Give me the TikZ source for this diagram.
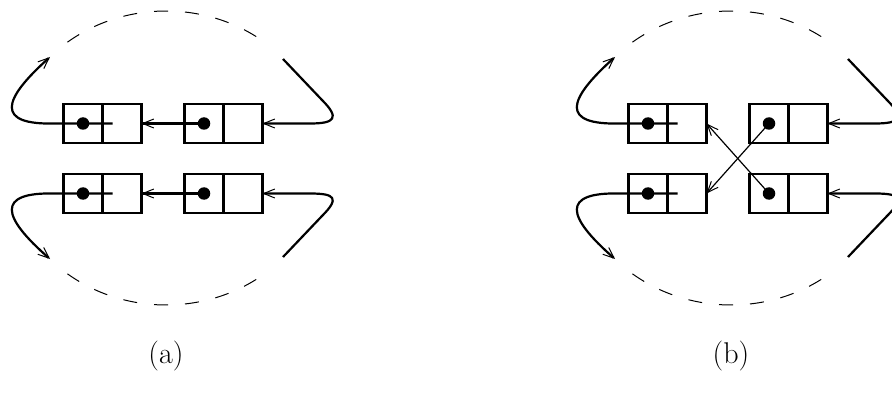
\documentclass[tikz,border=0pt]{standalone}
\usepackage{fontspec}
\usetikzlibrary{arrows.meta}
\begin{document}
\begin{tikzpicture}[x=1pt,y=-1pt,
  cell/.style={draw,line width=2.2pt,minimum width=39pt,minimum height=39pt,inner sep=0pt,outer sep=0pt},
  thick line/.style={line width=2.2pt},
  thin line/.style={line width=1.2pt},
  tip/.style={-{Straight Barb[length=11pt,width=9pt,line width=1pt]}},
  dashes/.style={line width=1pt,dash pattern=on 14pt off 17pt},
  dotc/.style={circle,fill=black,minimum size=12.5pt,inner sep=0pt},
  lab/.style={font=\fontsize{30}{36}\selectfont}]
\useasboundingbox (0,0) rectangle (892,393);
\fill[white] (0,0) rectangle (892,393);
% ---------- (a) ----------
\begin{scope}
\node[cell] (a1l) at (83,123.5) {};
\node[cell] (a1r) at (122,123.5) {};
\node[cell] (a2l) at (204,123.5) {};
\node[cell] (a2r) at (243,123.5) {};
\node[cell] (a3l) at (83,193.5) {};
\node[cell] (a3r) at (122,193.5) {};
\node[cell] (a4l) at (204,193.5) {};
\node[cell] (a4r) at (243,193.5) {};
\node[dotc] (ad1) at (a1l.center) {};
\node[dotc] (ad2) at (a2l.center) {};
\node[dotc] (ad3) at (a3l.center) {};
\node[dotc] (ad4) at (a4l.center) {};
\coordinate (at1) at (50,57);
\coordinate (at2) at (283,59);
\coordinate (ab1) at (50,259);
\coordinate (ab2) at (283,257);
% left loops
\draw[thick line,tip] ([xshift=10pt]a1r.west) -- (55,123.5) .. controls (-5,125) and (2,100) .. (at1);
\draw[thick line,tip] ([xshift=10pt]a3r.west) -- (55,193.5) .. controls (-5,192) and (2,217) .. (ab1);
% right loops
\draw[thick line,tip] (at2) -- (322,100) .. controls (340,118) and (335,123.5) .. (310,123.5) -- (a2r.east);
\draw[thick line,tip] (ab2) -- (322,216) .. controls (340,198) and (335,193.5) .. (310,193.5) -- (a4r.east);
% middle arrows
\draw[thick line,tip] (ad2.center) -- (a1r.east);
\draw[thick line,tip] (ad4.center) -- (a3r.east);
% dashed arcs
\draw[dashes] (166,158) ++(-128:160 and 147) arc[start angle=-128,end angle=-52.5,x radius=160,y radius=147];
\draw[dashes] (166,158) ++(128:160 and 147) arc[start angle=128,end angle=52.5,x radius=160,y radius=147];
\node[lab] (la) at (166,356) {(a)};
\end{scope}
% ---------- (b) ----------
\begin{scope}[xshift=565pt]
\node[cell] (b1l) at (83,123.5) {};
\node[cell] (b1r) at (122,123.5) {};
\node[cell] (b2l) at (204,123.5) {};
\node[cell] (b2r) at (243,123.5) {};
\node[cell] (b3l) at (83,193.5) {};
\node[cell] (b3r) at (122,193.5) {};
\node[cell] (b4l) at (204,193.5) {};
\node[cell] (b4r) at (243,193.5) {};
\node[dotc] (bd1) at (b1l.center) {};
\node[dotc] (bd2) at (b2l.center) {};
\node[dotc] (bd3) at (b3l.center) {};
\node[dotc] (bd4) at (b4l.center) {};
\coordinate (bt1) at (50,57);
\coordinate (bt2) at (283,59);
\coordinate (bb1) at (50,259);
\coordinate (bb2) at (283,257);
\draw[thick line,tip] ([xshift=10pt]b1r.west) -- (55,123.5) .. controls (-5,125) and (2,100) .. (bt1);
\draw[thick line,tip] ([xshift=10pt]b3r.west) -- (55,193.5) .. controls (-5,192) and (2,217) .. (bb1);
\draw[thick line,tip] (bt2) -- (322,100) .. controls (340,118) and (335,123.5) .. (310,123.5) -- (b2r.east);
\draw[thick line,tip] (bb2) -- (322,216) .. controls (340,198) and (335,193.5) .. (310,193.5) -- (b4r.east);
% crossing arrows
\draw[thin line,tip] (bd2.center) -- (b3r.east);
\draw[thin line,tip] (bd4.center) -- (b1r.east);
\draw[dashes] (166,158) ++(-128:160 and 147) arc[start angle=-128,end angle=-52.5,x radius=160,y radius=147];
\draw[dashes] (166,158) ++(128:160 and 147) arc[start angle=128,end angle=52.5,x radius=160,y radius=147];
\node[lab] (lb) at (166,356) {(b)};
\end{scope}
\end{tikzpicture}
\end{document}
